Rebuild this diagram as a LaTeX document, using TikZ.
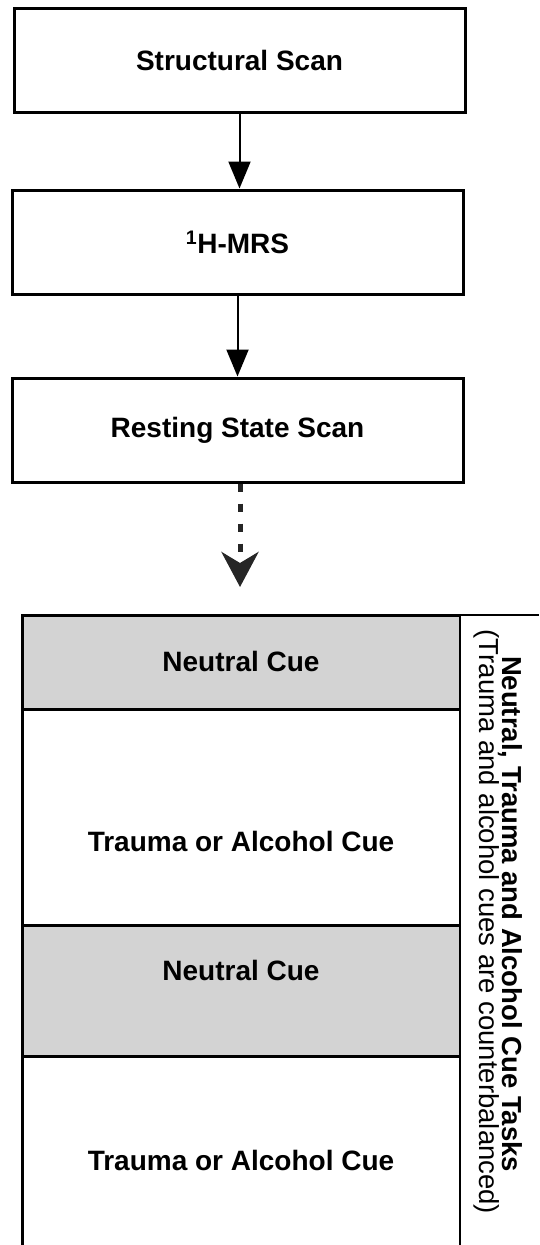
\documentclass[tikz,border=0pt]{standalone}
\usepackage{fontspec}
\setmainfont{Liberation Sans}
\usetikzlibrary{arrows.meta}
\definecolor{cuegray}{RGB}{211,211,211}
\tikzset{
	scanbox/.style={draw, line width=3pt, minimum width=451pt, minimum height=104pt, inner sep=0pt, font=\fontsize{28}{32}\selectfont\bfseries},
	cuetext/.style={font=\fontsize{28}{32}\selectfont\bfseries},
	flowarrow/.style={line width=2pt, -{Triangle[width=22pt,length=27pt]}},
}

\begin{document}
\begin{tikzpicture}[x=1pt,y=-1pt]
			\useasboundingbox (0,0) rectangle (539,1245);
			%%%%% START %%%%%
			
			\node[scanbox] (structural) at (239.5,60) {Structural Scan};
			\node[scanbox] (mrs) at (237.5,242) {\raisebox{-8pt}{\textsuperscript{1}H-MRS}};
			\node[scanbox] (resting) at (237.5,430) {Resting State Scan};
			
			\draw[flowarrow] (structural.south) -- (structural.south |- mrs.north);
			\draw[flowarrow] (mrs.south) -- (mrs.south |- resting.north);
			
			\coordinate (cuetop) at (240,587);
			\draw[line width=5pt, black!85, dash pattern=on 8pt off 12pt, -{Stealth[width=37pt,length=35pt,inset=11pt]}] (resting.south -| cuetop) -- (cuetop);
			
			% cue blocks
			\fill[cuegray] (22,615) rectangle (460,709);
			\fill[cuegray] (22,925) rectangle (460,1056);
			\draw[line width=3pt] (22,1245) -- (22,615) -- (460,615);
			\draw[line width=3pt] (22,709) -- (460,709);
			\draw[line width=3pt] (22,925) -- (460,925);
			\draw[line width=3pt] (22,1056) -- (460,1056);
			\draw[line width=2pt] (460,614) -- (460,1245);
			\draw[line width=1.2pt] (460,615) -- (539,615);
			
			\node[cuetext] (neutral1) at (241,661) {Neutral Cue};
			\node[cuetext] (trauma1) at (241,841) {Trauma or Alcohol Cue};
			\node[cuetext] (neutral2) at (241,970) {Neutral Cue};
			\node[cuetext] (trauma2) at (241,1160) {Trauma or Alcohol Cue};
			
			\node[rotate=-90, font=\fontsize{27.5}{32}\selectfont\bfseries] (tasks) at (510,914) {Neutral, Trauma and Alcohol Cue Tasks};
			\node[rotate=-90, font=\fontsize{27.5}{32}\selectfont] (balance) at (487,922) {(Trauma and alcohol cues are counterbalanced)};
			
			%%%%% END %%%%%
\end{tikzpicture}
\end{document}
